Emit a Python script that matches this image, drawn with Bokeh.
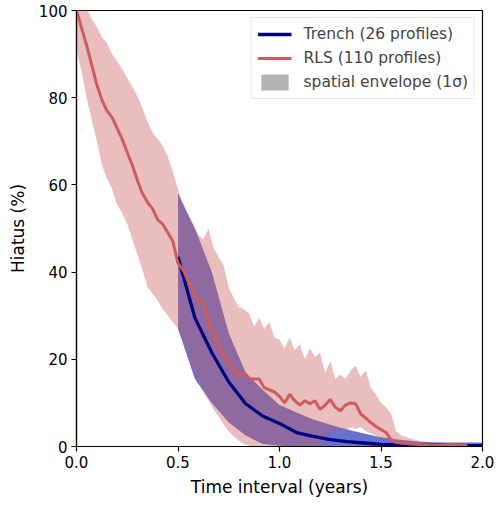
from bokeh.plotting import figure
from bokeh.models import Legend, LegendItem, FixedTicker, ColumnDataSource, Range1d
from bokeh.embed import file_html
from bokeh.resources import INLINE

# ---------------- data ----------------
rls_x = [0.000, 0.025, 0.050, 0.075, 0.100, 0.125, 0.150, 0.175, 0.200, 0.225,
         0.250, 0.275, 0.300, 0.325, 0.350, 0.375, 0.400, 0.425, 0.450, 0.475,
         0.500, 0.525, 0.550, 0.575, 0.600, 0.625, 0.650, 0.675, 0.700, 0.725,
         0.750, 0.775, 0.800, 0.825, 0.850, 0.875, 0.900, 0.925, 0.950, 0.975,
         1.000, 1.025, 1.050, 1.075, 1.100, 1.125, 1.150, 1.175, 1.200, 1.225,
         1.250, 1.275, 1.300, 1.325, 1.350, 1.375, 1.400, 1.425, 1.450, 1.475,
         1.500, 1.525, 1.550, 1.575, 1.600, 1.625, 1.650, 1.675, 1.700, 1.725,
         1.750, 1.775, 1.800, 1.825, 1.850, 1.875, 1.900, 1.925]
rls_mean = [100, 96, 92, 87.5, 83, 79.5, 77, 75.5, 73, 70.5,
            67.5, 64.5, 61, 58, 56, 54.5, 52, 51, 49, 47,
            42, 40.5, 38, 35.5, 33.5, 33, 29, 26, 23, 21,
            19, 17.5, 16.5, 16.5, 15.5, 15.5, 15.5, 13.5, 13, 12.5,
            11.5, 10, 12, 10.5, 9.5, 10.5, 9.8, 10.5, 8.5, 9.5,
            10.8, 9, 8.2, 9.5, 10, 9.8, 7.5, 6.5, 5.5, 4.6,
            3.9, 3.2, 1.6, 0.9, 0.8, 0.7, 0.6, 0.5, 0.4, 0.4,
            0.3, 0.3, 0.3, 0.4, 0.5, 0.3, 0.3, 0.2]
rls_hi = [104, 102.5, 100.5, 98, 96.3, 94, 92.5, 90, 88.5, 86.5,
          84.5, 82.5, 80.5, 77.5, 74.5, 72, 70.5, 69, 66.5, 63,
          59, 55.5, 52, 51, 48.5, 47.5, 50, 45.5, 43.5, 41.5,
          36.5, 34, 32, 31.5, 30.5, 27.5, 29.5, 27, 28.5, 25,
          24.5, 22.5, 25, 22, 23.5, 20, 22.5, 20.5, 21.5, 17,
          19.5, 15.5, 16.5, 15.5, 17.5, 18.5, 16, 17.5, 13.5, 12,
          10, 9, 7.5, 3.5, 2.5, 2.2, 1.8, 1.5, 0.9, 0.8,
          0.7, 0.6, 0.6, 0.7, 0.8, 0.6, 0.5, 0.5]
rls_lo = [91, 86, 80, 75, 70, 64.5, 61.5, 59, 55.5, 53.5,
          51, 47.5, 44, 40.5, 36.5, 35, 33.5, 31.5, 30, 28.5,
          27, 24, 21, 18, 15, 12.5, 10.5, 8.5, 6.8, 5,
          3.5, 2.3, 1.3, 0.6, 0.2, 0, 0, 0, 0, 0,
          0, 0, 0, 0, 0, 0, 0, 0, 0, 1.5,
          4, 3, 4.5, 3.5, 4.5, 4, 4.5, 3.5, 3, 2.5,
          2, 1.8, 1.2, 0.3, 0, 0, 0, 0, 0, 0,
          0, 0, 0, 0, 0, 0, 0, 0]

trench_x = [0.5, 0.5833, 0.6667, 0.75, 0.8333, 0.9167, 1.0, 1.0833, 1.1667, 1.25,
            1.3333, 1.4167, 1.5, 1.5833, 1.6667, 1.75, 1.8333, 1.9167, 2.0]
trench_mean = [43.5, 29.5, 21.5, 14.8, 9.8, 7.0, 5.3, 3.2, 2.3, 1.6,
               1.1, 0.8, 0.5, 0.35, 0.3, 0.3, 0.25, 0.2, 0.2]
trench_hi = [58, 50, 40, 26, 17, 13, 9.5, 7.8, 6.2, 5.0,
             3.9, 3.0, 2.1, 1.6, 1.2, 1.0, 0.9, 0.9, 0.9]
trench_lo = [27, 15.5, 10, 5.5, 2.5, 0.6, 0.2, 0, 0, 0,
             0, 0, 0, 0, 0, 0, 0, 0, 0]

x_ticks = [0, 0.5, 1.0, 1.5, 2.0]
x_tick_labels = ["0.0", "0.5", "1.0", "1.5", "2.0"]
y_ticks = [0, 20, 40, 60, 80, 100]

labels = ["Trench (26 profiles)", "RLS (110 profiles)", "spatial envelope (1σ)"]

FONT = "DejaVu Sans"
RED = "#cd5c5c"
NAVY = "#000080"

# ---------------- figure ----------------
p = figure(width=494, height=502, output_backend="svg", toolbar_location=None,
           x_range=Range1d(0, 2.0), y_range=Range1d(0, 100),
           min_border_left=76, min_border_right=12, min_border_top=10, min_border_bottom=56)
p.background_fill_color = "white"
p.border_fill_color = "white"
p.grid.visible = False
p.outline_line_color = "black"
p.outline_line_width = 1.2

tr_env = p.varea(x=trench_x, y1=trench_lo, y2=trench_hi, fill_color="#4a5bc4", fill_alpha=0.85)
rls_env = p.varea(x=rls_x, y1=rls_lo, y2=rls_hi, fill_color=RED, fill_alpha=0.4)
tr_line = p.line(trench_x, trench_mean, line_color=NAVY, line_width=3.3)
rls_line = p.line(rls_x, rls_mean, line_color=RED, line_width=3.0)
# legend proxy for the envelope (placed outside the visible x range)
env_proxy = p.quad(source=ColumnDataSource(dict(left=[-1.0], right=[-0.9], top=[1.0], bottom=[0.0])),
                   left="left", right="right", top="top", bottom="bottom",
                   fill_color="gray", fill_alpha=0.6, line_color=None)

for ax in (p.xaxis[0], p.yaxis[0]):
    ax.axis_line_width = 1.2
    ax.major_tick_line_width = 1.2
    ax.major_tick_out = 5
    ax.major_tick_in = 0
    ax.minor_tick_out = 0
    ax.minor_tick_in = 0
    ax.major_label_text_font = FONT
    ax.major_label_text_font_size = "15px"
    ax.major_label_text_color = "black"
    ax.axis_label_text_font = FONT
    ax.axis_label_text_font_size = "17px"
    ax.axis_label_text_font_style = "normal"
    ax.axis_label_text_color = "black"
    ax.major_label_standoff = 4

p.xaxis.ticker = FixedTicker(ticks=x_ticks)
p.xaxis.major_label_overrides = {t: l for t, l in zip(x_ticks, x_tick_labels)}
p.yaxis.ticker = FixedTicker(ticks=y_ticks)
p.xaxis.axis_label = "Time interval (years)"
p.yaxis.axis_label = "Hiatus (%)"
p.xaxis.axis_label_standoff = 6
p.yaxis.axis_label_standoff = 8

legend = Legend(items=[LegendItem(label=labels[0], renderers=[tr_line]),
                       LegendItem(label=labels[1], renderers=[rls_line]),
                       LegendItem(label=labels[2], renderers=[env_proxy])],
                location="top_right")
legend.label_text_font = FONT
legend.label_text_font_size = "15.5px"
legend.glyph_width = 34
legend.glyph_height = 20
legend.label_height = 20
legend.label_standoff = 12
legend.spacing = 4
legend.padding = 6
legend.margin = 7
legend.border_line_color = "#cccccc"
legend.border_line_width = 1
legend.background_fill_alpha = 0.8
p.add_layout(legend)

open("out.html", "w").write(file_html(p, INLINE))
